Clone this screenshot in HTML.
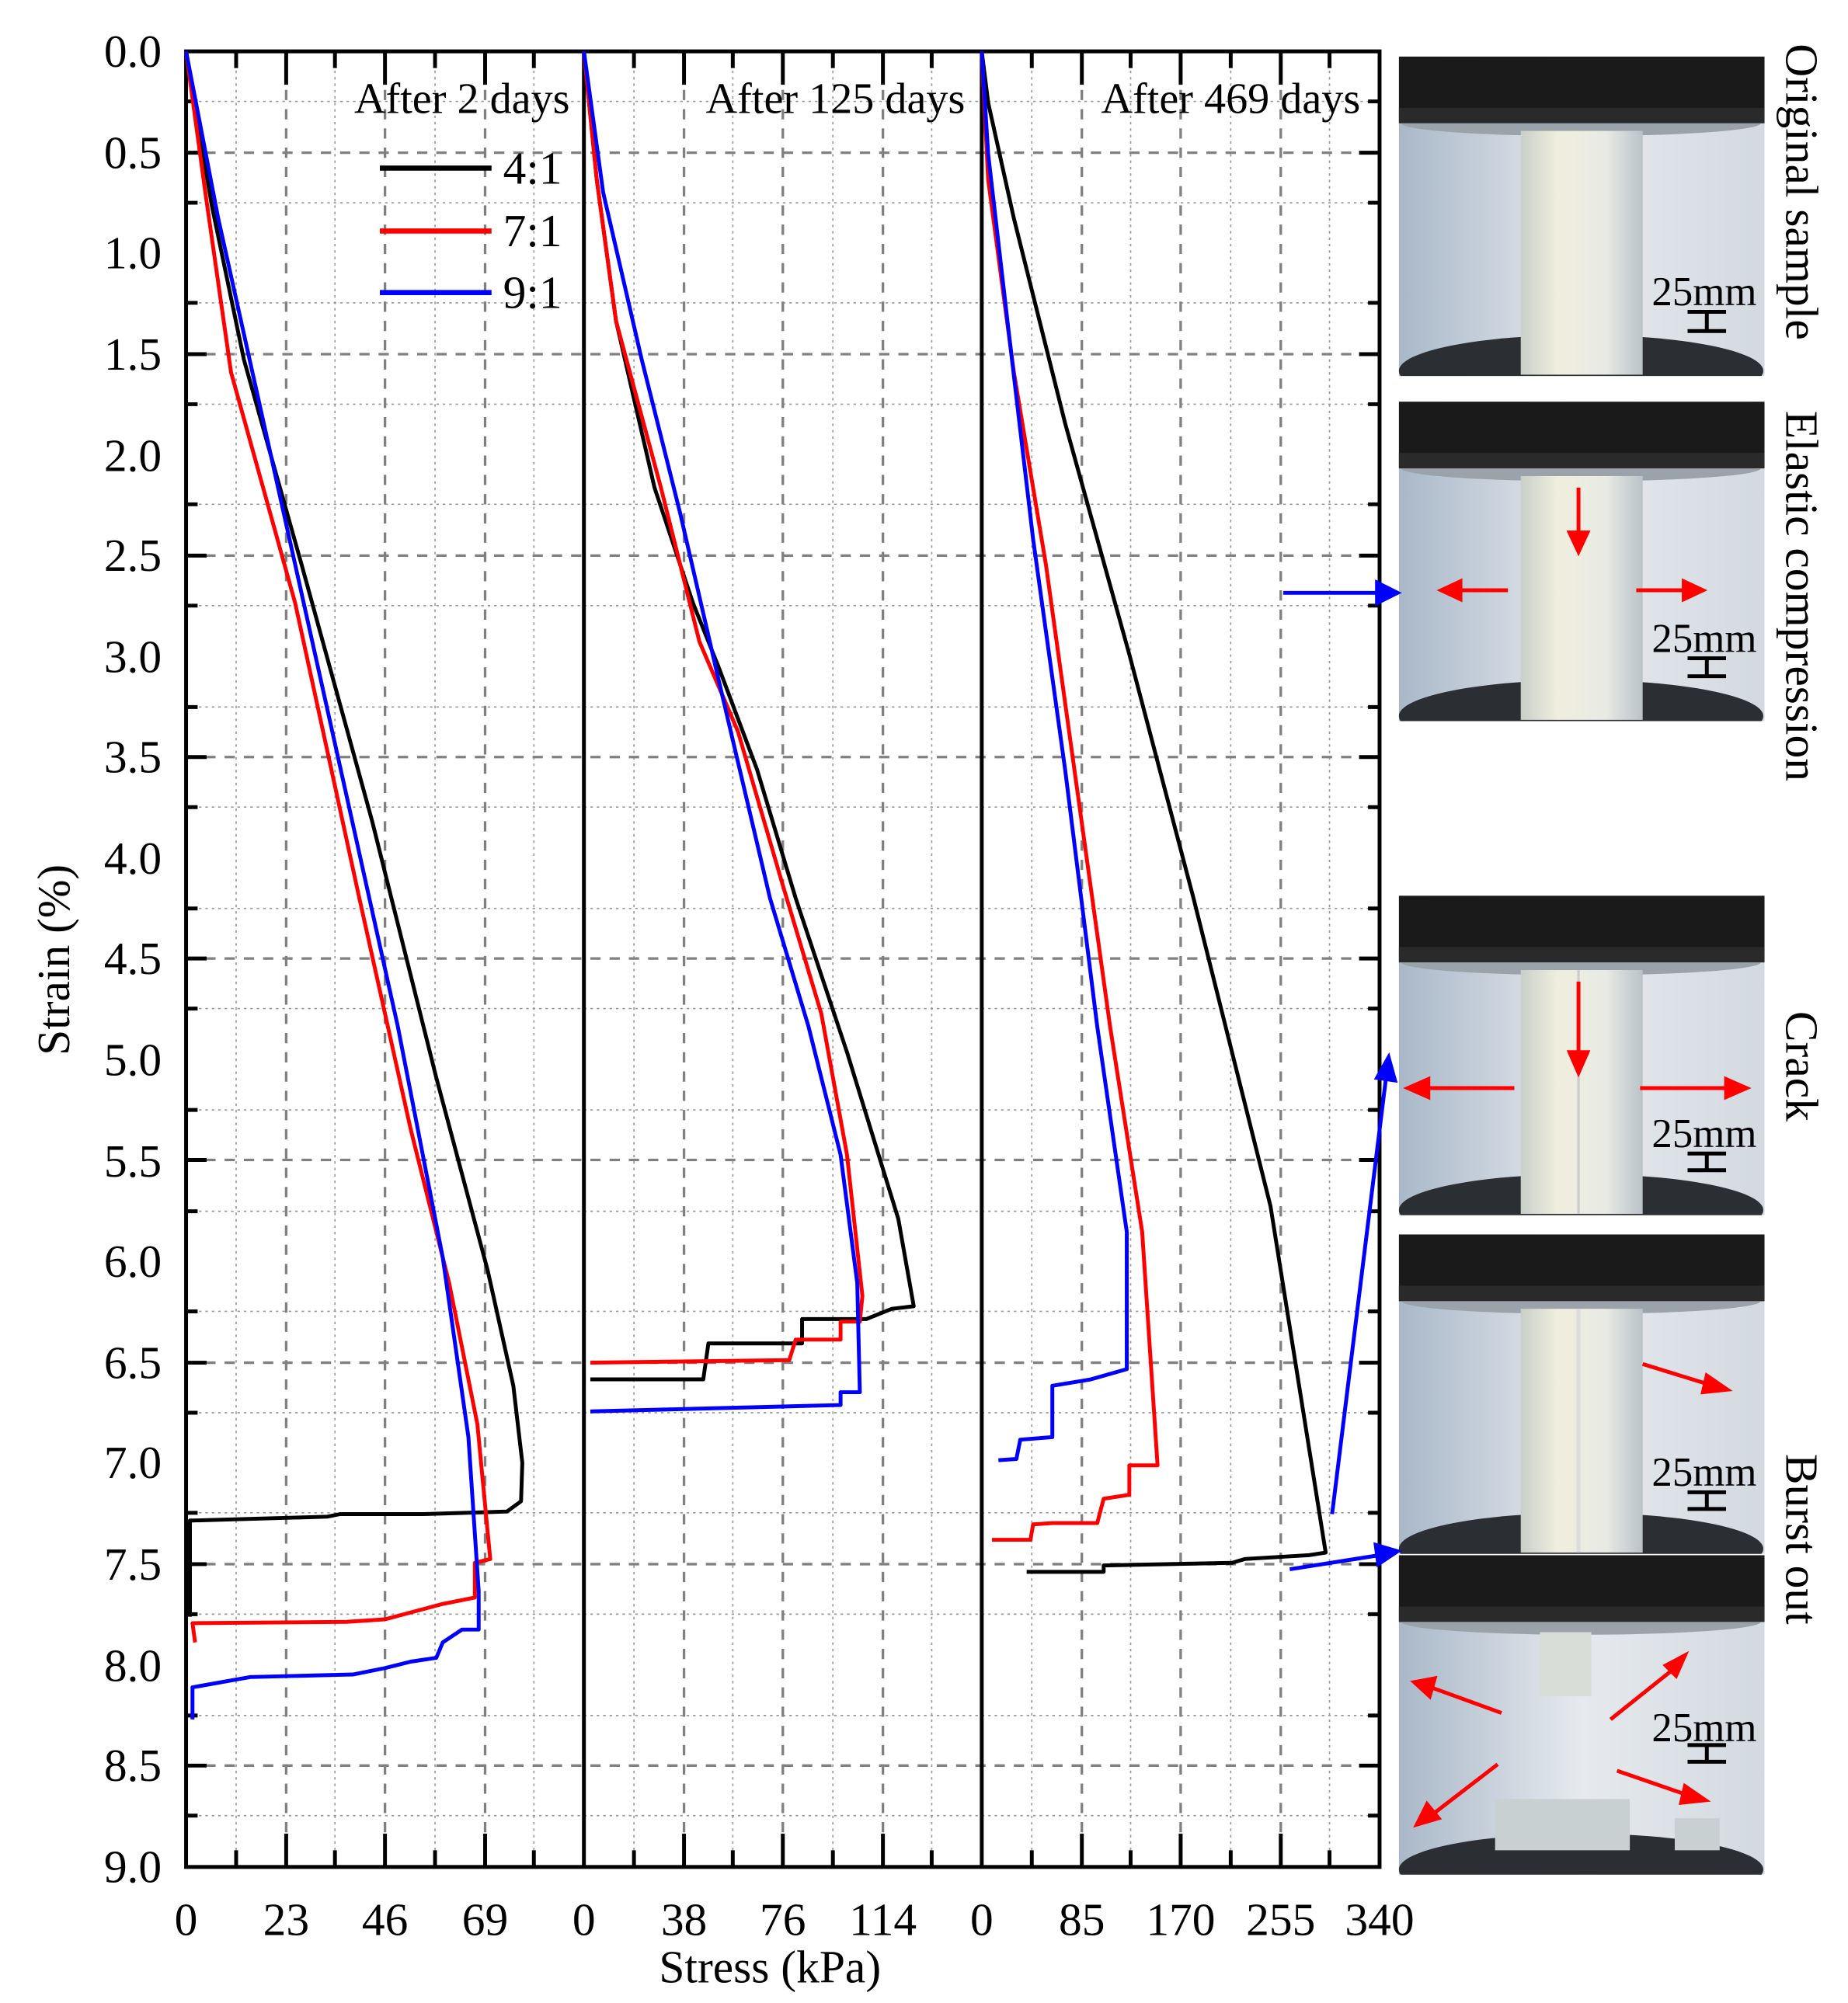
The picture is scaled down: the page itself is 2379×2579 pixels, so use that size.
<!DOCTYPE html>
<html><head><meta charset="utf-8"><style>
html,body{margin:0;padding:0;background:#fff}
svg{display:block}
text{font-family:"Liberation Serif",serif;fill:#000}
</style></head><body>
<svg width="2379" height="2579" viewBox="0 0 1440 1561" xmlns="http://www.w3.org/2000/svg">
<defs>
<linearGradient id="bg" x1="0" y1="0" x2="1" y2="0">
<stop offset="0" stop-color="#a9b8c8"/><stop offset="0.5" stop-color="#e6eaee"/><stop offset="1" stop-color="#d3d9e0"/>
</linearGradient>
<linearGradient id="cyl" x1="0" y1="0" x2="1" y2="0">
<stop offset="0" stop-color="#c8cfc8"/><stop offset="0.3" stop-color="#efeede"/><stop offset="0.7" stop-color="#e8eae4"/><stop offset="1" stop-color="#b9c3c8"/>
</linearGradient>
<clipPath id="pc"><rect x="0" y="0" width="285" height="249"/></clipPath>
<g id="photo">
<g clip-path="url(#pc)">
<rect x="0" y="0" width="285" height="249" fill="url(#bg)"/>
<rect x="0" y="0" width="285" height="52" fill="#1a1a1a"/>
<ellipse cx="142" cy="52" rx="140" ry="10" fill="#9aa3aa"/>
<rect x="0" y="40" width="285" height="12" fill="#2a2a2a"/>
<ellipse cx="142" cy="245" rx="142" ry="28" fill="#2b2f33"/>
</g>
</g>
<g id="cylinder"><rect x="95" y="58" width="95" height="190" fill="url(#cyl)"/></g>
</defs>

<!-- grid -->
<g stroke="#999" stroke-width="1" stroke-dasharray="2,3">
<path d="M184,40V1455M261,40V1455M339,40V1455M416,40V1455M494,40V1455M571,40V1455M649,40V1455M726,40V1455M804,40V1455M881,40V1455M959,40V1455M1036,40V1455"/>
<path d="M145,79H1075M145,158H1075M145,236H1075M145,315H1075M145,393H1075M145,472H1075M145,551H1075M145,629H1075M145,708H1075M145,786H1075M145,865H1075M145,944H1075M145,1022H1075M145,1101H1075M145,1179H1075M145,1258H1075M145,1337H1075M145,1415H1075"/>
</g>
<g stroke="#808080" stroke-width="2" stroke-dasharray="8,7">
<path d="M223,40V1455M300,40V1455M378,40V1455M533,40V1455M610,40V1455M688,40V1455M843,40V1455M920,40V1455M998,40V1455"/>
<path d="M145,119H1075M145,276H1075M145,433H1075M145,590H1075M145,747H1075M145,904H1075M145,1062H1075M145,1219H1075M145,1376H1075"/>
</g>
<!-- ticks -->
<g stroke="#000" stroke-width="3">
<path d="M145,119h16M145,276h16M145,433h16M145,590h16M145,747h16M145,904h16M145,1062h16M145,1219h16M145,1376h16M1075,119h-16M1075,276h-16M1075,433h-16M1075,590h-16M1075,747h-16M1075,904h-16M1075,1062h-16M1075,1219h-16M1075,1376h-16"/>
<path d="M145,79h9M145,158h9M145,236h9M145,315h9M145,393h9M145,472h9M145,551h9M145,629h9M145,708h9M145,786h9M145,865h9M145,944h9M145,1022h9M145,1101h9M145,1179h9M145,1258h9M145,1337h9M145,1415h9M1075,79h-9M1075,158h-9M1075,236h-9M1075,315h-9M1075,393h-9M1075,472h-9M1075,551h-9M1075,629h-9M1075,708h-9M1075,786h-9M1075,865h-9M1075,944h-9M1075,1022h-9M1075,1101h-9M1075,1179h-9M1075,1258h-9M1075,1337h-9M1075,1415h-9"/>
<path d="M223,1455v-26M300,1455v-26M378,1455v-26M533,1455v-26M610,1455v-26M688,1455v-26M843,1455v-26M920,1455v-26M998,1455v-26M223,40v26M300,40v26M378,40v26M533,40v26M610,40v26M688,40v26M843,40v26M920,40v26M998,40v26"/>
<path d="M184,1455v-13M261,1455v-13M339,1455v-13M416,1455v-13M494,1455v-13M571,1455v-13M649,1455v-13M726,1455v-13M804,1455v-13M881,1455v-13M959,1455v-13M1036,1455v-13M184,40v13M261,40v13M339,40v13M416,40v13M494,40v13M571,40v13M649,40v13M726,40v13M804,40v13M881,40v13M959,40v13M1036,40v13"/>
</g>
<rect x="145" y="40" width="930" height="1415" fill="none" stroke="#000" stroke-width="3"/>
<path d="M455,40V1455M765,40V1455" stroke="#000" stroke-width="3"/>

<!-- curves -->
<g fill="none" stroke-width="3" stroke-linejoin="round">
<path stroke="#000" d="M145,40 L165,160 L190,280 L235,440 L290,640 L340,840 L380,990 L400,1080 L407,1140 L406,1170 L395,1178 L330,1180 L265,1180 L255,1182 L150,1185 L148,1185 L148,1260"/>
<path stroke="#f00" d="M145,40 L160,150 L180,290 L230,470 L280,700 L320,880 L350,1000 L372,1110 L382,1215 L370,1218 L370,1245 L345,1250 L315,1258 L300,1262 L270,1264 L150,1265 L152,1280"/>
<path stroke="#00f" d="M145,40 L170,170 L230,440 L270,620 L310,800 L345,980 L365,1120 L373,1240 L373,1270 L360,1270 L345,1280 L340,1292 L320,1295 L300,1300 L275,1305 L195,1307 L150,1315 L150,1340"/>
<path stroke="#000" d="M455,40 L465,140 L480,250 L510,380 L540,470 L560,520 L590,600 L620,700 L660,820 L700,950 L712,1018 L695,1020 L675,1028 L625,1028 L625,1047 L552,1047 L548,1075 L460,1075"/>
<path stroke="#f00" d="M455,40 L465,140 L480,250 L515,380 L545,500 L575,570 L610,690 L640,790 L660,900 L672,1010 L670,1030 L655,1030 L655,1044 L620,1044 L615,1060 L460,1062"/>
<path stroke="#00f" d="M455,40 L470,150 L500,280 L530,400 L560,530 L600,700 L630,800 L655,900 L668,1000 L670,1085 L655,1085 L655,1095 L460,1100"/>
<path stroke="#000" d="M765,40 L770,80 L790,170 L830,330 L880,510 L930,700 L990,940 L1033,1210 L1020,1212 L970,1215 L960,1218 L860,1220 L860,1225 L800,1225"/>
<path stroke="#f00" d="M765,40 L770,140 L790,290 L815,440 L840,620 L865,800 L890,960 L902,1142 L880,1142 L880,1165 L860,1168 L855,1187 L820,1187 L805,1188 L803,1200 L773,1200"/>
<path stroke="#00f" d="M765,40 L770,120 L785,250 L805,420 L830,600 L855,800 L878,960 L878,1067 L850,1075 L820,1080 L820,1120 L795,1122 L792,1137 L778,1138"/>
</g>

<!-- legend -->
<g stroke-width="4"><path d="M296,131H383" stroke="#000"/><path d="M296,180H383" stroke="#f00"/><path d="M296,228H383" stroke="#00f"/></g>
<g font-size="36"><text x="392" y="143">4:1</text><text x="392" y="192">7:1</text><text x="392" y="240">9:1</text></g>
<g font-size="34" text-anchor="end"><text x="444" y="88">After 2 days</text><text x="752" y="88">After 125 days</text><text x="1060" y="88">After 469 days</text></g>

<!-- y labels -->
<g font-size="36" text-anchor="end">
<text x="126" y="52">0.0</text><text x="126" y="131">0.5</text><text x="126" y="209">1.0</text><text x="126" y="288">1.5</text><text x="126" y="367">2.0</text><text x="126" y="445">2.5</text><text x="126" y="524">3.0</text><text x="126" y="602">3.5</text><text x="126" y="681">4.0</text><text x="126" y="759">4.5</text><text x="126" y="838">5.0</text><text x="126" y="917">5.5</text><text x="126" y="995">6.0</text><text x="126" y="1074">6.5</text><text x="126" y="1152">7.0</text><text x="126" y="1231">7.5</text><text x="126" y="1310">8.0</text><text x="126" y="1388">8.5</text><text x="126" y="1467">9.0</text>
</g>
<text font-size="36" text-anchor="middle" transform="translate(54,748) rotate(-90)">Strain (%)</text>
<g font-size="36" text-anchor="middle">
<text x="145" y="1508">0</text><text x="223" y="1508">23</text><text x="300" y="1508">46</text><text x="378" y="1508">69</text><text x="455" y="1508">0</text><text x="533" y="1508">38</text><text x="610" y="1508">76</text><text x="688" y="1508">114</text><text x="765" y="1508">0</text><text x="843" y="1508">85</text><text x="920" y="1508">170</text><text x="998" y="1508">255</text><text x="1075" y="1508">340</text>
<text x="600" y="1545">Stress (kPa)</text>
</g>

<!-- photos -->
<g transform="translate(1090,44)"><use href="#photo"/><use href="#cylinder"/></g>
<g transform="translate(1090,313)"><use href="#photo"/><use href="#cylinder"/></g>
<g transform="translate(1090,698)"><use href="#photo"/><use href="#cylinder"/><path d="M140,58V248" stroke="#ccc" stroke-width="2"/></g>
<g transform="translate(1090,962)"><use href="#photo"/><use href="#cylinder"/><path d="M140,58V248" stroke="#ddd" stroke-width="3"/></g>
<g transform="translate(1090,1212)"><use href="#photo"/>
<rect x="110" y="60" width="40" height="50" fill="#d8ddd8"/><rect x="75" y="190" width="105" height="40" fill="#c9d0d2"/><rect x="215" y="205" width="35" height="25" fill="#c9d0d2"/></g>

<!-- scale bars & text -->
<g font-size="32" text-anchor="middle">
<text x="1328" y="238">25mm</text><text x="1328" y="508">25mm</text><text x="1328" y="894">25mm</text><text x="1328" y="1158">25mm</text><text x="1328" y="1357">25mm</text>
</g>
<g stroke="#000" stroke-width="3">
<path d="M1315,243h30M1315,258h30M1330,243v15"/>
<path d="M1315,513h30M1315,527h30M1330,513v14"/>
<path d="M1315,899h30M1315,912h30M1330,899v13"/>
<path d="M1315,1163h30M1315,1176h30M1330,1163v13"/>
<path d="M1315,1360h30M1315,1373h30M1330,1360v13"/>
</g>

<!-- red arrows -->
<g stroke="#f00" stroke-width="3" fill="#f00">
<path d="M1230,380V420" /><path d="M1223,415l7,15l7,-15z"/>
<path d="M1175,460H1135"/><path d="M1138,453l-15,7l15,7z"/>
<path d="M1275,460H1315"/><path d="M1312,453l15,7l-15,7z"/>
<path d="M1230,765V825"/><path d="M1223,820l7,16l7,-16z"/>
<path d="M1180,848H1110"/><path d="M1113,841l-16,7l16,7z"/>
<path d="M1278,848H1348"/><path d="M1345,841l16,7l-16,7z"/>
<path d="M1280,1063L1335,1080"/><path d="M1330,1072l16,11l-19,2z"/>
<path d="M1170,1335L1115,1315"/><path d="M1118,1308l-16,3l12,11z"/>
<path d="M1255,1340L1305,1300"/><path d="M1298,1298l15,-8l-7,16z"/>
<path d="M1167,1375L1115,1415"/><path d="M1112,1406l-8,16l17,-5z"/>
<path d="M1260,1380L1318,1400"/><path d="M1313,1392l16,11l-19,2z"/>
</g>

<!-- blue arrows -->
<g stroke="#00f" stroke-width="3" fill="#00f">
<path d="M1000,462H1075"/><path d="M1073,454l16,8l-16,8z"/>
<path d="M1038,1180L1080,840"/><path d="M1073,840l9,-16l5,18z"/>
<path d="M1005,1223L1075,1212"/><path d="M1072,1204l17,5l-15,10z"/>
</g>

<!-- rotated labels -->
<g font-size="36">
<text transform="translate(1392,34) rotate(90)">Original sample</text>
<text transform="translate(1392,320) rotate(90)">Elastic compression</text>
<text transform="translate(1392,788) rotate(90)">Crack</text>
<text transform="translate(1392,1133) rotate(90)">Burst out</text>
</g>
</svg>
</body></html>
